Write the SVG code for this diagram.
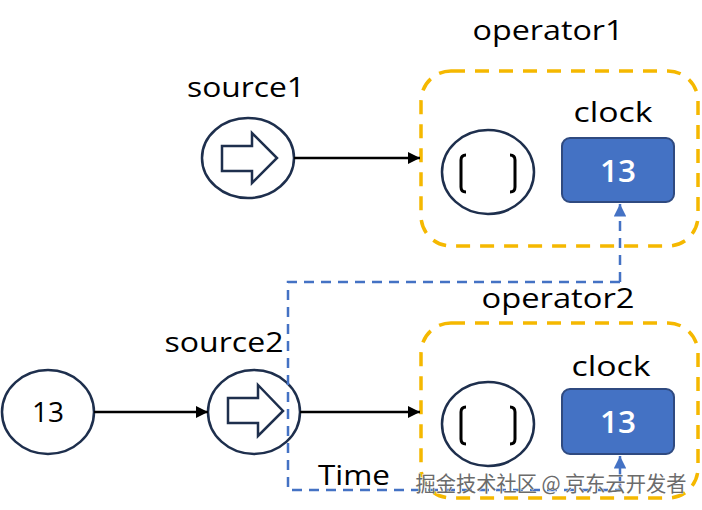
<svg xmlns="http://www.w3.org/2000/svg" width="702" height="510" viewBox="0 0 702 510">
<defs>
<style>
.lbl{font-family:"Open Sans","Liberation Sans",sans-serif;font-size:28px;font-weight:500;fill:#000;text-anchor:middle}
.node{fill:#fff;stroke:#1e2f4d;stroke-width:2.5}
.arrowshape{fill:#fff;stroke:#1e2f4d;stroke-width:2.5;stroke-linejoin:miter}
.op{fill:none;stroke:#f5b800;stroke-width:3.5;stroke-dasharray:14 10}
.clock{fill:#4472c4;stroke:#2f4a80;stroke-width:2}
.num{font-family:"Open Sans","Liberation Sans",sans-serif;font-size:30px;font-weight:600;fill:#fff;text-anchor:middle}
.br{fill:none;stroke:#000;stroke-width:3}
.edge{fill:none;stroke:#000;stroke-width:2.5}
.blue{fill:none;stroke:#4472c4;stroke-width:2.5;stroke-dasharray:10 7}
</style>
<marker id="ah" viewBox="0 0 10 10" refX="10" refY="5" markerWidth="5" markerHeight="5" orient="auto" markerUnits="strokeWidth"><path d="M0,0 L10,5 L0,10 z" fill="#000"/></marker>
<marker id="bh" viewBox="0 0 10 10" refX="10" refY="5" markerWidth="5" markerHeight="5" orient="auto" markerUnits="strokeWidth"><path d="M0,0 L10,5 L0,10 z" fill="#4472c4"/></marker>
</defs>
<rect width="702" height="510" fill="#fff"/>

<g id="operator1">
<rect class="op" x="421" y="71" width="277" height="175" rx="30"/>
<text class="lbl" x="548" y="40" textLength="151" lengthAdjust="spacingAndGlyphs">operator1</text>
<ellipse class="node" cx="488" cy="172" rx="46" ry="42"/>
<path class="br" d="M466,155 Q461,155 461,160 L461,187 Q461,192 466,192"/>
<path class="br" d="M510,155 Q515,155 515,160 L515,187 Q515,192 510,192"/>
<text class="lbl" x="613" y="122" textLength="79" lengthAdjust="spacingAndGlyphs">clock</text>
<rect class="clock" x="562" y="138" width="112" height="64" rx="8"/>
<text class="num" x="618" y="182" textLength="36" lengthAdjust="spacingAndGlyphs">13</text>
</g>

<g id="operator2">
<rect class="op" x="421" y="323" width="277" height="175" rx="30"/>
<text class="lbl" x="558" y="308" textLength="153" lengthAdjust="spacingAndGlyphs">operator2</text>
<ellipse class="node" cx="488" cy="424" rx="46" ry="42"/>
<path class="br" d="M466,407 Q461,407 461,412 L461,439 Q461,444 466,444"/>
<path class="br" d="M510,407 Q515,407 515,412 L515,439 Q515,444 510,444"/>
<text class="lbl" x="611" y="376" textLength="79" lengthAdjust="spacingAndGlyphs">clock</text>
<rect class="clock" x="562" y="389" width="112" height="65" rx="8"/>
<text class="num" x="618" y="433" textLength="36" lengthAdjust="spacingAndGlyphs">13</text>
</g>

<g id="source1">
<text class="lbl" x="246" y="97" textLength="118" lengthAdjust="spacingAndGlyphs">source1</text>
<ellipse class="node" cx="248" cy="158" rx="46" ry="40"/>
<path class="arrowshape" d="M222,146 L252,146 L252,133 L277,158 L252,183 L252,171 L222,171 Z"/>
</g>

<g id="source2">
<text class="lbl" x="224" y="352" textLength="119" lengthAdjust="spacingAndGlyphs">source2</text>
<ellipse class="node" cx="254" cy="412" rx="46" ry="42"/>
<path class="arrowshape" d="M228,398 L258,398 L258,385 L283,411 L258,436 L258,423 L228,423 Z"/>
</g>

<g id="input13">
<ellipse class="node" cx="48" cy="412" rx="46" ry="42"/>
<text class="lbl" x="48" y="422" textLength="32" lengthAdjust="spacingAndGlyphs">13</text>
</g>

<g id="connectors">
<line class="edge" x1="294" y1="158" x2="420" y2="158" marker-end="url(#ah)"/>
<line class="edge" x1="94" y1="412" x2="208" y2="412" marker-end="url(#ah)"/>
<line class="edge" x1="300" y1="412" x2="420" y2="412" marker-end="url(#ah)"/>
<path class="blue" d="M620,282 L288,282 L288,490 L620,490"/>
<line class="blue" x1="620" y1="282" x2="620" y2="204" marker-end="url(#bh)"/>
<line x1="620" y1="490" x2="620" y2="456" stroke="#4472c4" stroke-width="2.5" marker-end="url(#bh)"/>
<text class="lbl" x="354" y="485" textLength="72" lengthAdjust="spacingAndGlyphs">Time</text>
</g>

<text x="551" y="491" font-family="Noto Sans CJK SC, sans-serif" font-size="21" fill="#6b6b6b" stroke="#fff" stroke-width="0.8" paint-order="stroke" text-anchor="middle" textLength="271" lengthAdjust="spacingAndGlyphs">掘金技术社区 @ 京东云开发者</text>
</svg>
